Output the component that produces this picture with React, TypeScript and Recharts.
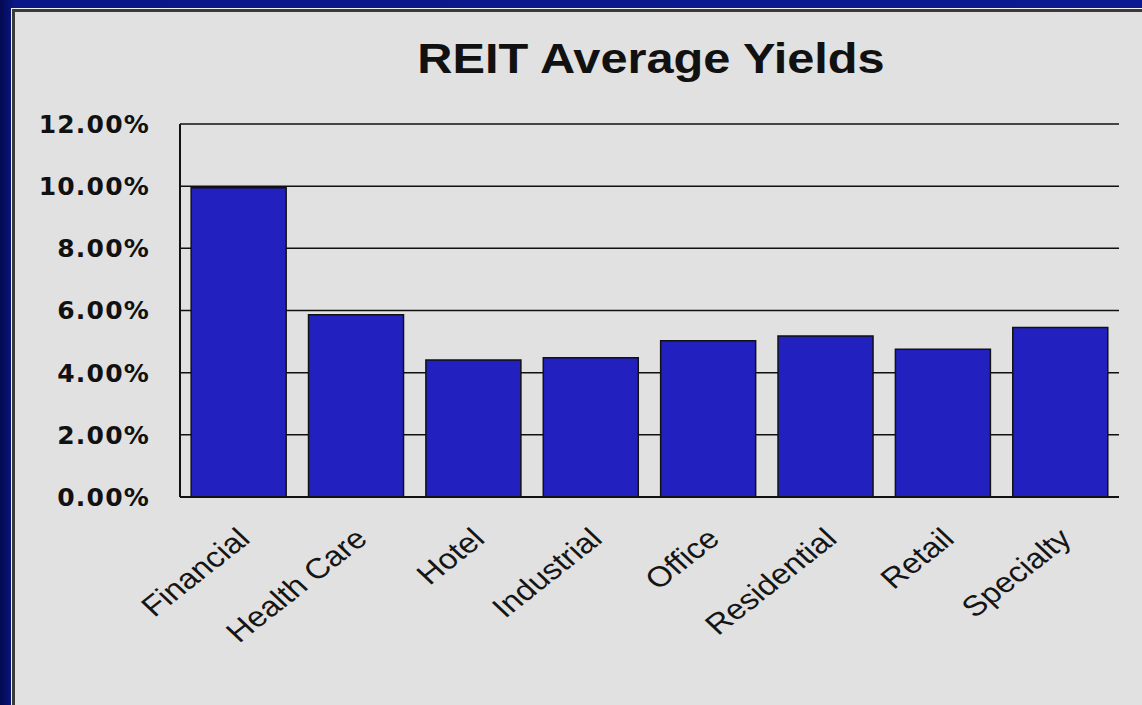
import { BarChart, Bar, XAxis, YAxis, CartesianGrid } from 'recharts';

const categories = ['Financial', 'Health Care', 'Hotel', 'Industrial', 'Office', 'Residential', 'Retail', 'Specialty'];
const yields = [9.95, 5.86, 4.41, 4.48, 5.03, 5.18, 4.75, 5.45];
const yTicks = [0, 2, 4, 6, 8, 10, 12];

const data = categories.map((name, i) => ({ name, value: yields[i] }));

// category labels are drawn slanted and a little stretched, like the old slide
const CategoryTick = (props: any) => {
  const { x, y, payload } = props;
  return (
    <g transform={`translate(${x + 13},${y + 44})`}>
      <text
        x={0}
        y={0}
        textAnchor="end"
        transform="scale(1.16,1) rotate(-42.5)"
        fontFamily="'Liberation Sans', Arial, sans-serif"
        fontSize={28.5}
        fill="#151515"
      >
        {payload.value}
      </text>
    </g>
  );
};

export default function App() {
  return (
    <div
      style={{
        position: 'fixed',
        left: 0,
        top: 0,
        width: 1142,
        height: 705,
        overflow: 'hidden',
        background: 'linear-gradient(to right, #020950 0px, #0a1786 14px, #0b1a92 100%)',
      }}
    >
      <div
        style={{
          position: 'absolute',
          left: 11,
          top: 8,
          width: 1140,
          height: 710,
          background: '#e1e1e1',
          borderLeft: '1px solid #f4f4f4',
          borderTop: '1px solid #f4f4f4',
          boxShadow: 'inset 3px 3px 0 #3a3a3a',
        }}
      />
      <svg style={{ position: 'absolute', left: 0, top: 0 }} width={1142} height={705}>
        <text
          transform="translate(651,73) scale(1.16,1)"
          textAnchor="middle"
          fontFamily="'Liberation Sans', Arial, sans-serif"
          fontWeight="bold"
          fontSize={42}
          fill="#111"
        >
          REIT Average Yields
        </text>
      </svg>
      <div style={{ position: 'absolute', left: 0, top: 0 }}>
        <BarChart
          width={1142}
          height={705}
          data={data}
          margin={{ top: 124, right: 23, bottom: 168, left: 0 }}
          barCategoryGap="9.5%"
        >
          <CartesianGrid vertical={false} stroke="#111" strokeWidth={1.5} />
          <XAxis
            dataKey="name"
            height={40}
            tickLine={false}
            tickSize={0}
            tickMargin={0}
            interval={0}
            axisLine={{ stroke: '#111', strokeWidth: 2 }}
            tick={(p: any) => <CategoryTick {...p} />}
          />
          <YAxis
            width={180}
            domain={[0, 12]}
            ticks={yTicks}
            interval={0}
            tickLine={false}
            tickSize={0}
            tickMargin={30}
            axisLine={{ stroke: '#111', strokeWidth: 2 }}
            tickFormatter={(v: number) => `${v.toFixed(2)}%`}
            tick={{
              fill: '#111',
              fontSize: 25,
              fontWeight: 'bold',
              fontFamily: "'DejaVu Sans', sans-serif",
              letterSpacing: 1.2,
            }}
          />
          <YAxis
            yAxisId="r"
            orientation="right"
            width={0}
            domain={[0, 12]}
            tick={false}
            tickLine={false}
            axisLine={{ stroke: '#111', strokeWidth: 2 }}
          />
          <Bar dataKey="value" fill="#2220bf" stroke="#111" strokeWidth={1.5} isAnimationActive={false} />
        </BarChart>
      </div>
    </div>
  );
}
